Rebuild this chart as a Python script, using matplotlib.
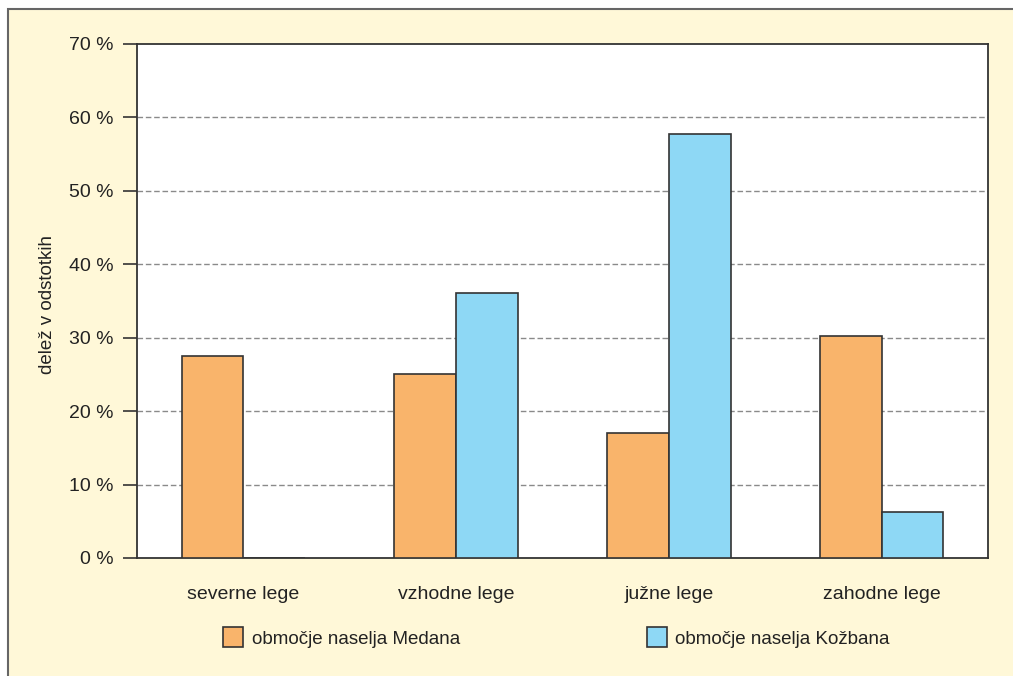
import matplotlib
matplotlib.use("Agg")
import numpy as np
from matplotlib import pyplot as plt
from matplotlib.patches import Rectangle
from matplotlib.lines import Line2D

kategorije = ['severne lege', 'vzhodne lege', 'južne lege', 'zahodne lege']
medana = [27.5, 25.0, 17.0, 30.2]
kozbana = [0.0, 36.1, 57.8, 6.2]
serije = ['območje naselja Medana', 'območje naselja Kožbana']
y_ticks = [0, 10, 20, 30, 40, 50, 60, 70]

plt.rcParams['font.family'] = ['Liberation Sans', 'DejaVu Sans']
ozadje = '#FFF8D8'
oranzna = '#F9B46B'
modra = '#8ED8F5'
rob = '#333333'

fig = plt.figure(figsize=(10.13, 6.76), dpi=100, facecolor='white')
# rumen okvir
fig.patches.append(Rectangle((8 / 1013, -0.05), 1.1, (676 - 9) / 676 + 0.05,
                             transform=fig.transFigure, facecolor=ozadje,
                             edgecolor='#666666', linewidth=1.5, zorder=-10))

ax = fig.add_axes([137 / 1013, 1 - 558 / 676, (988 - 137) / 1013, (558 - 44) / 676])
ax.set_facecolor('white')

x = np.arange(len(kategorije))
w = 0.29
ax.bar(x - w / 2, medana, w, color=oranzna, edgecolor=rob, linewidth=1.2, zorder=3)
ax.bar(x + w / 2, kozbana, w, color=modra, edgecolor=rob, linewidth=1.2, zorder=3)

ax.set_xlim(-0.5, len(kategorije) - 0.5)
ax.set_ylim(0, 70)
ax.set_yticks(y_ticks)
ax.set_yticklabels([f'{t} %' for t in y_ticks], fontsize=14, color='#222222')
ax.set_xticks(x)
ax.set_xticklabels(kategorije, fontsize=14, color='#222222')
ax.tick_params(axis='x', length=0, pad=20)
ax.tick_params(axis='y', length=10, width=1.2, color=rob, pad=7, direction='out')

for v in y_ticks[1:-1]:
    ax.axhline(v, color='#8a8a8a', linestyle=(0, (4, 2)), linewidth=1.0, zorder=1)

for s in ax.spines.values():
    s.set_color(rob)
    s.set_linewidth(1.3)

fig.text(48 / 1013, 1 - 304 / 676, 'delež v odstotkih', rotation=90,
         ha='center', va='center', fontsize=13.5, color='#222222')

handles = [Line2D([], [], marker='s', linestyle='none', markersize=15,
                  markerfacecolor=c, markeredgecolor=rob, markeredgewidth=1.2)
           for c in (oranzna, modra)]
fig.legend(handles, serije, loc='center left', ncol=2, frameon=False,
           bbox_to_anchor=(214 / 1013, 1 - 639 / 676), fontsize=13.5,
           handlelength=1.0, handletextpad=0.5, columnspacing=10.0,
           labelcolor='#222222', borderpad=0)

fig.savefig('out.png', dpi=100, facecolor=fig.get_facecolor())
